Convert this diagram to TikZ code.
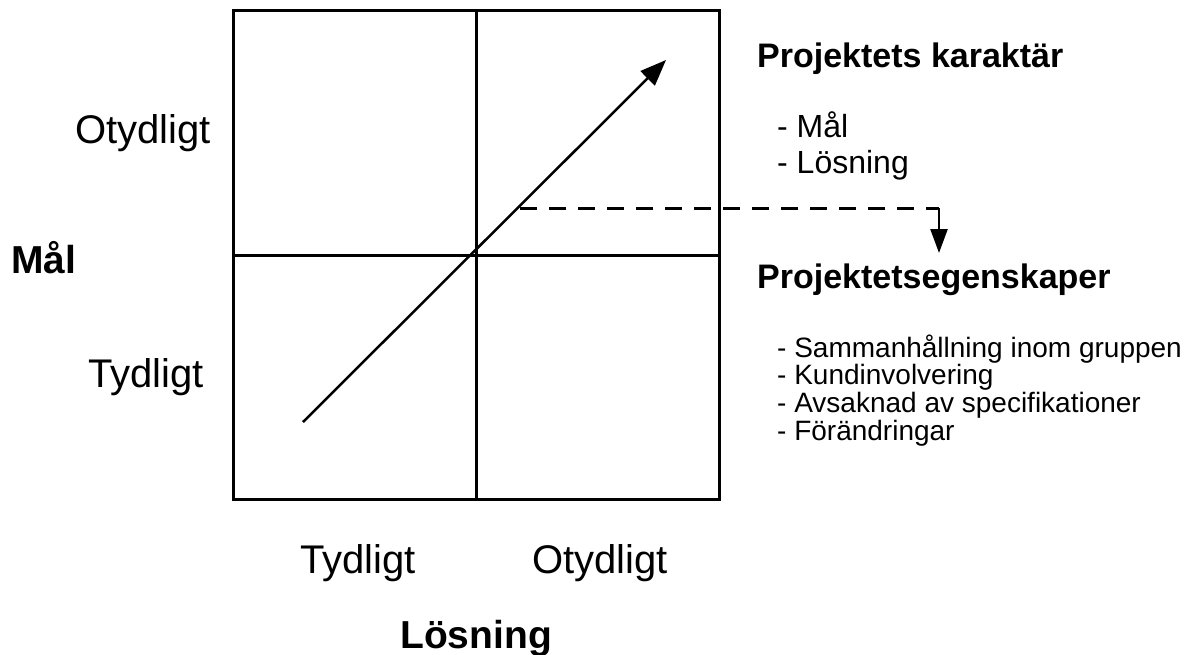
\documentclass[tikz,border=0pt]{standalone}
\usepackage{fontspec}
\setmainfont{Liberation Sans}
\usetikzlibrary{arrows.meta}
\begin{document}
\begin{tikzpicture}[x=1pt,y=-1pt,
  frame/.style={line width=3pt},
  axislabel/.style={inner sep=0pt,anchor=base,font=\fontsize{40}{48}\selectfont},
  axistitle/.style={inner sep=0pt,font=\bfseries\fontsize{39}{46}\selectfont},
  heading/.style={inner sep=0pt,anchor=base west,font=\bfseries\fontsize{34}{40}\selectfont},
  bigitem/.style={inner sep=0pt,anchor=base west,font=\fontsize{32}{36}\selectfont},
  smallitem/.style={inner sep=0pt,anchor=base west,font=\fontsize{28}{28}\selectfont},
  trend/.style={line width=2.5pt,-{Triangle[length=26pt,width=20pt]}},
  link/.style={line width=3pt,dash pattern=on 17pt off 12pt}
]
\useasboundingbox (0,0) rectangle (1201,654);

% quadrant frame
\coordinate (tl) at (233,10);
\coordinate (br) at (719,499);
\draw[frame] (tl) rectangle (br);
\draw[frame] (476,10) -- (476,499);
\draw[frame] (233,255) -- (719,255);

% trend arrow through the centre
\coordinate (start) at (303,422);
\coordinate (tip) at (666,60);
\draw[trend] (start) -- (tip);

% axis labels
\node[axislabel] (yo) at (143,143) {Otydligt};
\node[axislabel] (yt) at (146,387) {Tydligt};
\node[axistitle,anchor=base west] (mal) at (11,273) {Mål};
\node[axislabel] (xt) at (358,573) {Tydligt};
\node[axislabel] (xo) at (600,573) {Otydligt};
\node[axistitle,anchor=base] (los) at (476,648) {Lösning};

% right-hand texts
\node[heading] (kar) at (757,67) {Projektets karaktär};
\node[bigitem] (kar1) at (777,137) {- Mål};
\node[bigitem] (kar2) at (777,173) {- Lösning};
\node[heading] (egen) at (757,288) {Projektetsegenskaper};
\node[smallitem] (eg1) at (777,357) {- Sammanhållning inom gruppen};
\node[smallitem] (eg2) at (777,384) {- Kundinvolvering};
\node[smallitem] (eg3) at (777,412) {- Avsaknad av specifikationer};
\node[smallitem] (eg4) at (777,440) {- Förändringar};

% dashed link from the trend to the properties
\coordinate (d0) at (520,208);
\coordinate (d1) at (939,208);
\coordinate (d2) at (939,253);
\draw[link] (d0) -- (d1);
\draw[line width=2.5pt,-{Triangle[length=24pt,width=17pt]}] (d1) -- (d2);
\end{tikzpicture}
\end{document}
